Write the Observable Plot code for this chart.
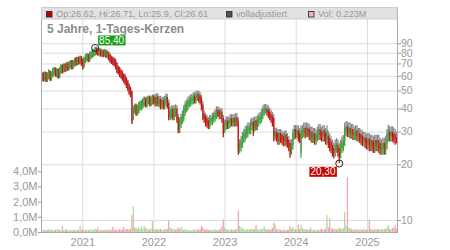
<!DOCTYPE html>
<html><head><meta charset="utf-8">
<script src="https://cdn.jsdelivr.net/npm/d3@7"></script>
<script src="https://cdn.jsdelivr.net/npm/@observablehq/plot@0.6"></script>
<style>
body{margin:0;background:#fff;}
#wrap{position:relative;width:450px;height:250px;overflow:hidden;}
#wrap svg{position:absolute;left:0;top:0;}
</style></head><body><div id="wrap"></div>
<script>
// ---- data (weekly candles) ----
const startDate = "2020-06-05";
const firstOpen = 59.5;
const closes = [
60,59,61,58,60,62,59,61,63,64,
62,63,61,64,66,65,67,66,68,67,
69,70,68,70,72,71,73,72,74,71,
69,73,75,76,74,77,78,79,80,83,
81,80,81,79,80,79,80,78,78,76,
74,73,72,71,68,65,64,62,61,59,
58,56,54,52,50,48,36,39,40,38.5,
39.5,41,41,42,43,43.5,42.5,44,44.5,43,
44,45,44,43,44.5,43,43,42,42.5,41.5,
43,44,42,36,37,38,36.5,38,38.5,35,
31,33,34.5,35.5,38,40,41,42.5,43,44,
44,45,44.5,46,46,45,44,41,36,35,
34,33,32.5,34,34,35,35.5,36.5,38,37.5,
36.5,37,35,30.5,32,33,32.5,33,34,33.5,
34,33.5,34.5,33.5,24,24.5,25.5,27,28,29,
29.5,30.5,30.5,32,32.5,31.5,33,32,33.5,34.5,
35,36.5,38,39,39.5,38,37,36,35,34,
28,28.5,28,27,28,27.5,27,26.5,27.5,26.5,
26,25,23.5,24.5,28,29.5,29,29,28,27.5,
29,29,30,29,30,29.5,28.5,28.5,27.5,28,
27,27.5,28.5,29.5,28.5,28,29,28,27,27.5,
26,25,24.5,23.5,23,24,24.5,23.5,22.5,24,
25,25.5,30,30.5,29.5,30,29,29.5,28.5,28.5,
29,28,28,27.5,27,26.5,26.5,26,25.5,26,
25,25.5,25,24.5,25.5,25,25.5,24.5,24,24,
24.5,24,25,27.5,28.5,28,28.5,28,27.5,27,
26.61];
const highs = [
63,62.5,63.5,63,62.5,65,64,63.5,66,67,
66.5,66,65.5,67,69,69,70,70,71,71,
72,73,73,73,75,75.5,76,76,77,76.5,
74,75.5,78,79,78.5,80,81,82.5,83,85.4,
85,84,84,83.5,83,82.5,83,82.5,81.5,80.5,
78.5,76.5,75.5,74.5,73.5,70.5,67.5,66.5,64.5,63.5,
61.5,60.5,58.5,56.5,54,52,49.5,41,42,42,
41.5,43,43.5,44,45,46,45.5,46,46.5,46.5,
46,47,47,46,46.5,46.5,45,45,44.5,44.5,
45,46.5,46,43,39,40,40,40,40.5,40,
36,34.5,36,37.5,40,42,43,44.5,45,46,
46,47,47,48,48,48,47,45.5,42,37.5,
36.5,35.5,34.5,35.5,35.5,36.5,37,38,39.5,39.5,
39,38.5,38.5,35.5,33.5,34.5,34.5,34.5,35.5,35.5,
35.5,35.5,36,36,34,26,27,28.5,29.5,30.5,
31,32,32,33.5,34,34,34.5,34.5,35,36,
36.5,38,39.5,40.3,40.3,40,39.5,38.5,37.5,36.5,
35.5,30,30,29.5,29.5,29.5,29,28.5,29,29,
28,27,26,26,29.5,31,31,30.5,30.5,29.5,
30.5,30.5,31.5,31.5,31.5,31.5,31,30,30,29.5,
29.5,29,30,31,31,30,30.5,30.5,29.5,30.5,
28.5,27.5,26.5,25.5,24.5,25.5,26,25.5,24.5,25.5,
26.5,27,31.5,32,32,31.5,31.5,31,31,30,
30.5,30.5,29.5,29.5,29,28.5,28,28,27.5,27.5,
27.5,27,27,26.5,27,27,27,27,26,25.5,
26,26,26.5,29,30.5,30,30,30,29.5,29,
28];
const lows = [
56.5,56,56.5,55.5,55.5,57.5,56.5,56.5,59,60.5,
59.5,59,58,58.5,61.5,62,62.5,63,63.5,64,
64.5,66,65,65.5,67.5,68,68.5,69,69.5,68,
65,66.5,70.5,72,71,71.5,74,75,76,77,
78,77,77,76,76,75.5,76,75,74.5,72.5,
70.5,69.5,68.5,67.5,65,62,61,59,58,56.5,
55,53.5,51.5,49.5,47.5,46,33,34.5,37.5,36.5,
36.5,37.5,39,39,40,41,40.5,40.5,42,41,
41,42,42,41,41,41,40.5,39.5,40,39.5,
39.5,41,40,34.5,34.5,35,34.5,34.5,36,33.5,
29.4,29.5,31.5,33,34,36.5,38,39,40.5,41,
42,42,42.5,42.5,44,43,42,39,34.5,33.5,
32,31.5,31,31,32.5,32.5,33.5,34,35,36,
35,35,33.5,28,29.5,30.5,31,31,31.5,32,
32,32,32,32,22.5,23,23.5,24.5,26,26.5,
27.5,28,29,29,30.5,28.5,30,30.5,30.5,32,
33,33.5,35,36.5,37.5,36.5,35.5,34.5,33.5,32,
26.5,27,26.5,25.5,25.5,26,25.5,25,25,25,
24.5,23.5,21.7,22.5,24,27,27.5,27.5,26.5,26,
21.7,27.5,28,27.5,28,28,27,26.5,26,26,
25.5,25.5,26.5,27,27,26.5,26.5,26.5,25.5,25.5,
24.5,23.5,23,22,21.5,22,23,22,20.3,21.5,
23,23.5,25,28.5,28,28,27.5,27.5,27,27,
27,26.5,26.5,26,25.5,25,25,24.5,24,24,
23.5,23.5,23.5,23,23,23.5,23.5,23,22.5,22.5,
22.5,22.5,22.5,24,26.5,26.5,26.5,26.5,26,25.5,
25.9];
const volumesM = [
.18,.12,.15,.1,.14,.2,.12,.16,.1,.13,
.15,.12,.2,.14,.1,.4,.12,.15,.18,.1,
.12,.14,.1,.16,.13,.1,.15,.12,.43,.14,
.2,.12,.15,.1,.14,.12,.18,.1,.15,.22,
.16,.3,.12,.1,.15,.13,.12,.18,.1,.14,
.16,.12,.35,.14,.18,.1,.15,.2,.13,.16,
.35,.14,.18,.2,.16,.22,1.1,1.7,.3,.25,
.22,.3,.18,.4,.2,.4,.25,.18,.2,.16,
.22,.7,.2,.15,.22,.18,.14,.2,.16,.12,
.18,.22,.2,.76,.3,.2,.16,.2,.14,.18,
.3,.2,.35,.16,.14,.18,.12,.16,.1,.14,
.12,.16,.14,.1,.18,.14,.2,.4,.3,.16,
.14,.2,.12,.16,.1,.14,.12,.18,.1,.14,
.16,.2,.35,.83,.3,.2,.14,.16,.12,.18,
.14,.12,.16,.2,1.42,.4,.3,.22,.18,.14,
.16,.2,.14,.18,.22,.16,.2,.48,.18,.14,
.16,.2,.22,.35,.18,.16,.2,.14,.18,.25,
.63,.5,.2,.16,.18,.14,.12,.16,.1,.14,
.12,.16,.4,.22,.35,.2,.16,.18,.5,.2,
.45,.25,.18,.2,.16,.14,.18,.3,.14,.12,
.16,.1,.14,.12,.18,.2,.14,.16,.22,1.1,
.3,.9,.25,.2,.22,.18,.2,.16,.3,.2,
.22,.25,1.3,.4,3.6,.3,.25,.2,.16,.18,
.14,.2,.16,.12,.18,.14,.2,.16,.14,.18,
.8,.22,.16,.14,.18,.2,.16,.22,.14,.18,
.16,.2,.22,.3,.45,.2,.18,.25,.3,.45,
.223];
const adjYears = [2020, 2021, 2022, 2023, 2024, 2025];
const adjFactors = [1.0, 1.012, 1.04, 1.05, 1.065, 1.07];
const priceTicks = [10, 20, 30, 40, 50, 60, 70, 80, 90];
const volTicks = [0, 1, 2, 3, 4];
const yearTicks = [2021, 2022, 2023, 2024, 2025];
const extremeLabels = ["85,40", "20,30"];
const extremeValues = [85.40, 20.30];
const extremeWeeks = [39, 218];
const lastOHLC = ["26.62", "26.71", "25.9", "26.61"];
const lastVolume = "0.223M";
const titleText = "5 Jahre, 1-Tages-Kerzen";

// ---- build table ----
const t0 = new Date(startDate);
const rows = closes.map((c, i) => {
  const date = d3.utcDay.offset(t0, 7 * i);
  const open = i === 0 ? firstOpen : closes[i - 1];
  const f = adjFactors[adjYears.indexOf(date.getUTCFullYear())];
  return {date, open, close: c, high: highs[i], low: lows[i], vol: volumesM[i],
          up: c >= open, aHigh: highs[i] * f, aLow: lows[i] * f};
});
const ext = extremeLabels.map((label, k) => ({label, value: extremeValues[k], date: rows[extremeWeeks[k]].date}));
const yearDates = yearTicks.map(y => new Date(Date.UTC(y, 0, 1)));

const FONT = "'Liberation Sans', Arial, sans-serif";
const common = {
  width: 450, height: 250,
  marginTop: 7, marginRight: 53, marginBottom: 18, marginLeft: 41,
  style: {background: "transparent", fontFamily: FONT, fontSize: "11px", overflow: "visible"},
  x: {type: "utc", domain: [new Date("2020-06-03"), new Date("2025-06-04")]}
};
const RED = "#cc1414", GREEN = "#3aa63a", GRAY = "#8a8a8a";

const pricePlot = Plot.plot({
  ...common,
  y: {type: "log", domain: [8.61, 141.2]},
  marks: [
    Plot.gridX(yearDates, {stroke: "#dcdcdc", strokeOpacity: 1}),
    Plot.gridY(priceTicks, {stroke: "#dcdcdc", strokeOpacity: 1}),
    Plot.axisX(yearDates, {tickSize: 0, tickPadding: 6, tickFormat: d3.utcFormat("%Y"), fontSize: 11, fill: "#999", label: null}),
    Plot.axisY(priceTicks, {anchor: "right", tickSize: 3, text: null, stroke: "#999", label: null}),
    Plot.text(priceTicks, {y: d => d, text: d => String(d), frameAnchor: "right", dx: 3.5, textAnchor: "start", fill: "#999", fontSize: 10.5}),
    Plot.ruleX(rows, {x: "date", y1: "aLow", y2: "aHigh", stroke: GRAY, strokeWidth: 1.3}),
    Plot.ruleX(rows.filter(d => d.up), {x: "date", y1: "low", y2: "high", stroke: GREEN, strokeWidth: 1.3}),
    Plot.ruleX(rows.filter(d => !d.up), {x: "date", y1: "low", y2: "high", stroke: RED, strokeWidth: 1.3}),
    Plot.frame({stroke: "#aaa"}),
    Plot.dot(ext, {x: "date", y: "value", r: 3.5, stroke: "#222", fill: "none", strokeWidth: 1}),
    Plot.text(ext.slice(0, 1), {x: "date", y: "value", text: "label", dx: 16.5, dy: -7.2, fill: "white", fontSize: 10}),
    Plot.text(ext.slice(1), {x: "date", y: "value", text: "label", dx: -16.3, dy: 8.6, fill: "white", fontSize: 10})
  ]
});

const volPlot = Plot.plot({
  ...common,
  x: {...common.x, axis: null},
  y: {domain: [0, 14.82]},
  marks: [
    Plot.ruleX(rows.filter(d => d.up), {x: "date", y1: 0, y2: "vol", stroke: "#a3d994", strokeWidth: 1.2}),
    Plot.ruleX(rows.filter(d => !d.up), {x: "date", y1: 0, y2: "vol", stroke: "#f0a3aa", strokeWidth: 1.2}),
    Plot.axisY(volTicks, {anchor: "left", tickSize: 3, tickPadding: 1, tickFormat: d => d.toFixed(1).replace(".", ",") + "M", fontSize: 11, fill: "#999", stroke: "#999", label: null})
  ]
});

const wrap = document.getElementById("wrap");
wrap.appendChild(pricePlot);
wrap.appendChild(volPlot);

// label boxes behind annotation texts
const boxColors = ["#17a017", "#cc0000"];
d3.select(pricePlot).selectAll("text").each(function () {
  const k = extremeLabels.indexOf(this.textContent);
  if (k < 0) return;
  const b = this.getBBox();
  const r = document.createElementNS("http://www.w3.org/2000/svg", "rect");
  r.setAttribute("x", b.x - 1); r.setAttribute("y", b.y + 0.5);
  r.setAttribute("width", b.width + 2); r.setAttribute("height", b.height - 1);
  r.setAttribute("fill", boxColors[k]);
  const tr = this.getAttribute("transform"); if (tr) r.setAttribute("transform", tr);
  this.parentNode.insertBefore(r, this);
});

// header & title overlay
const ov = d3.select(wrap).append("svg").attr("width", 450).attr("height", 250)
  .style("font-family", FONT);
ov.append("rect").attr("x", 41.5).attr("y", 7.5).attr("width", 355.5).attr("height", 11.5).attr("fill", "#e1e1e1").attr("stroke", "#cfcfcf");
const hdrItems = [
  {x: 46.5, fill: "#c00000", text: `Op:${lastOHLC[0]}, Hi:${lastOHLC[1]}, Lo:${lastOHLC[2]}, Cl:${lastOHLC[3]}`},
  {x: 226.5, fill: "#555", text: "volladjustiert"},
  {x: 308.5, fill: "#f2b3b8", text: `Vol: ${lastVolume}`}
];
hdrItems.forEach(h => {
  ov.append("rect").attr("x", h.x).attr("y", 11.5).attr("width", 5.5).attr("height", 5.5)
    .attr("fill", h.fill).attr("stroke", "#222").attr("stroke-width", 0.8);
  ov.append("text").attr("x", h.x + 9.5).attr("y", 17.3).attr("font-size", 9.2).attr("fill", "#999").text(h.text);
});
ov.append("text").attr("x", 47).attr("y", 33.3).attr("font-size", 12).attr("font-weight", "bold")
  .attr("fill", "#8c8c8c").text(titleText);
</script></body></html>
